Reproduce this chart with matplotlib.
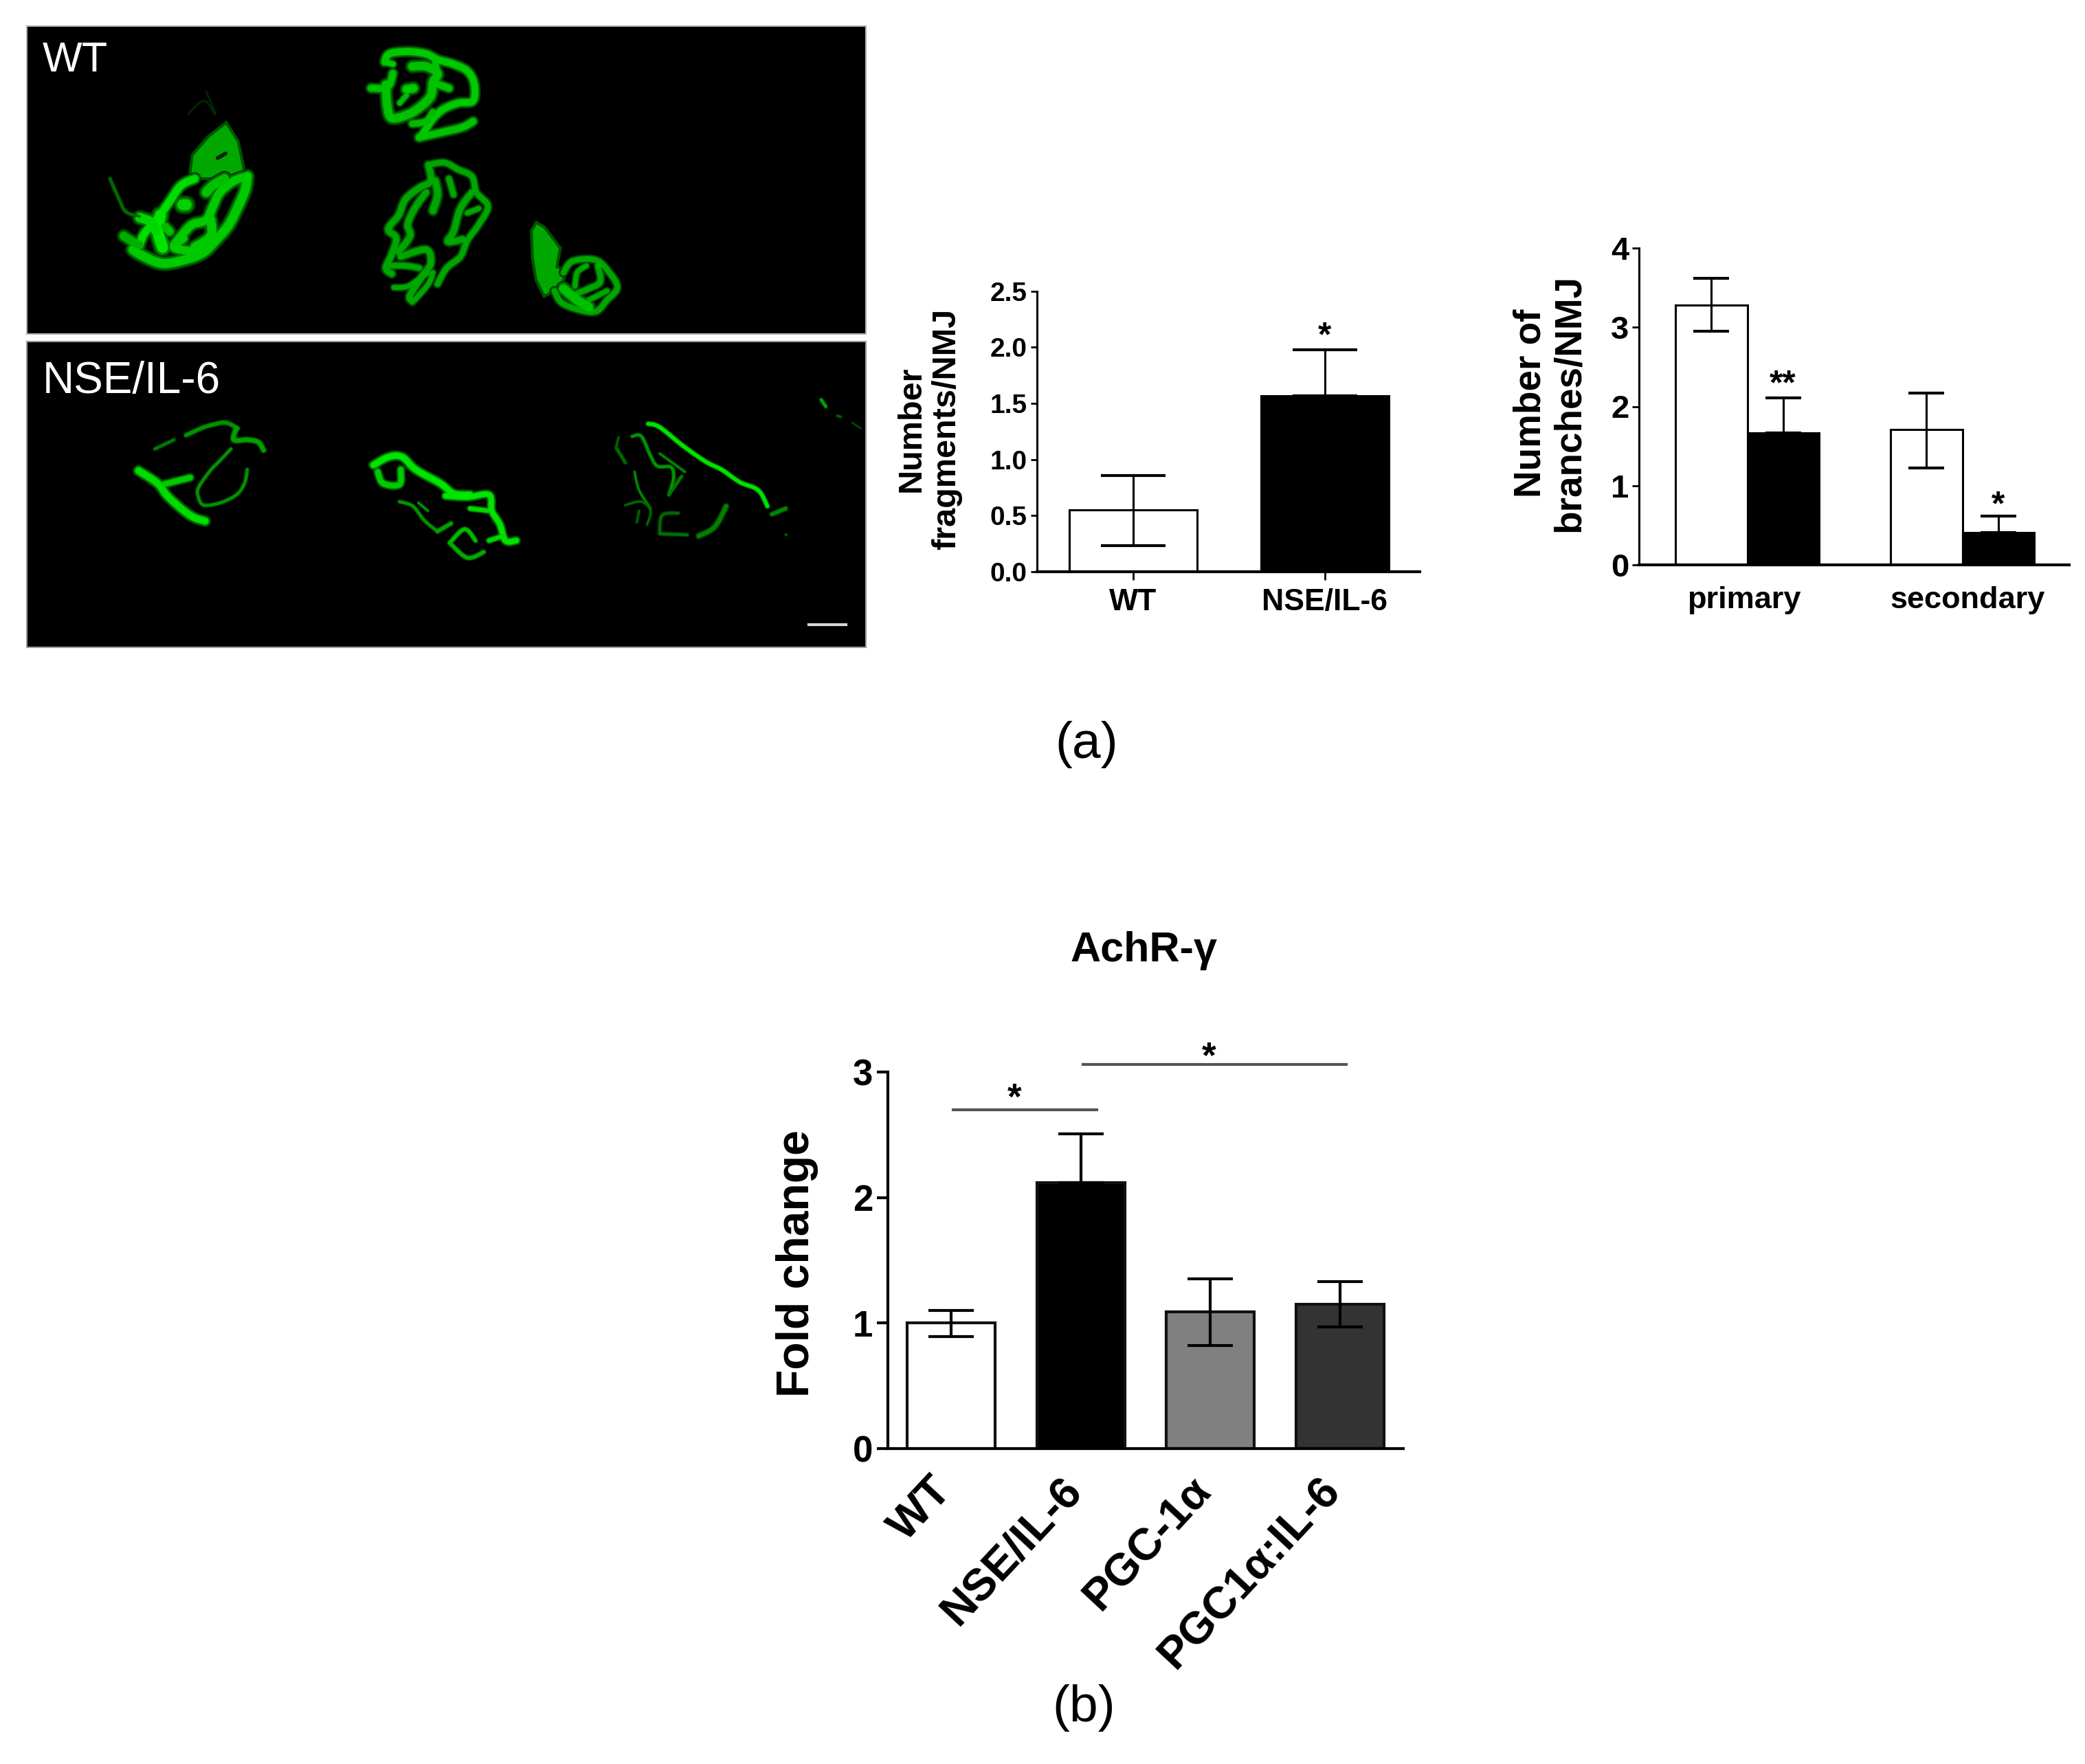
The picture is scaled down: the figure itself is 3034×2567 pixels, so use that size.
import matplotlib
matplotlib.use("Agg")
import matplotlib.pyplot as plt
import numpy as np
from matplotlib.patches import Rectangle
from matplotlib.transforms import ScaledTranslation

plt.rcParams['font.family'] = ['Liberation Sans', 'DejaVu Sans']

W, H = 3034, 2567

# ---------- data ----------
frag_labels = ["WT", "NSE/IL-6"]
frag_values = [0.55, 1.57]
frag_low = [0.23, 1.57]
frag_high = [0.855, 1.98]
frag_ticks = [0.0, 0.5, 1.0, 1.5, 2.0, 2.5]

branch_groups = ["primary", "secondary"]
branch_values = [3.28, 1.67, 1.71, 0.41]
branch_low = [2.95, 1.67, 1.22, 0.41]
branch_high = [3.62, 2.11, 2.17, 0.62]
branch_ticks = [0, 1, 2, 3, 4]

achr_labels = ["WT", "NSE/IL-6", "PGC-1α", "PGC1α:IL-6"]
achr_values = [1.00, 2.12, 1.09, 1.15]
achr_low = [0.89, 2.12, 0.82, 0.97]
achr_high = [1.10, 2.51, 1.35, 1.33]
achr_colors = ["white", "black", "#808080", "#333333"]
achr_ticks = [0, 1, 2, 3]


def px_axes(left, top, right, bottom, **kw):
    return fig.add_axes([left / W, 1 - bottom / H, (right - left) / W, (bottom - top) / H], **kw)


def px_text(x, y, s, **kw):
    kw.setdefault('ha', 'center')
    kw.setdefault('va', 'center')
    fig.text(x / W, 1 - y / H, s, **kw)


def asym(vals, low, high):
    return [[v - l for v, l in zip(vals, low)], [h - v for v, h in zip(vals, high)]]


fig = plt.figure(figsize=(W / 100, H / 100), dpi=100, facecolor='white')

# ---------- micrograph panels: hand-traced strokes; each entry is (width in full px, level, points in crop px) ----------
img = px_axes(0, 0, 1300, 980)
img.set_xlim(0, 1300)
img.set_ylim(980, 0)
img.axis('off')
img.add_patch(Rectangle((39, 37.5), 1221, 448.5, fc='black', ec='#b0b0b0', lw=1.5))
img.add_patch(Rectangle((39, 497), 1221, 445, fc='black', ec='#9a9a9a', lw=1.5))


def smooth(pts):
    p = np.array(pts, float)
    if len(p) < 3:
        return p
    q = np.vstack([p[0], p, p[-1]])
    out = []
    for i in range(1, len(q) - 2):
        t = np.linspace(0, 1, 12, endpoint=False)[:, None]
        a, b, c, d = q[i - 1], q[i], q[i + 1], q[i + 2]
        out.append(0.5 * (2 * b + (c - a) * t + (2 * a - 5 * b + 4 * c - d) * t ** 2 + (3 * b - a - 3 * c + d) * t ** 3))
    out.append(p[-1:])
    return np.vstack(out)


def draw_strokes(strokes, x0, y0, sx, sy):
    paths = [(w, lvl, smooth(pts) / [sx, sy] + [x0, y0]) for w, lvl, pts in strokes]
    for scale, factor in ((1.75, 0.28), (1.4, 0.6), (1.0, 1.05)):
        for w, lvl, p in paths:
            g = min(1.0, lvl * factor)
            img.plot(p[:, 0], p[:, 1], color=(0, g, 0), lw=w * scale * 0.72,
                     solid_capstyle='round', solid_joinstyle='round')


def draw_blob(pts, x0, y0, sx, sy, lvl):
    p = np.array(pts, float) / [sx, sy] + [x0, y0]
    img.fill(p[:, 0], p[:, 1], color=(0, lvl * 0.5, 0), lw=8)
    img.fill(p[:, 0], p[:, 1], color=(0, lvl, 0), lw=2)


# left WT NMJ (crop at 140,60, 3x)
draw_blob([(565, 370), (610, 440), (635, 560), (600, 585), (500, 590), (430, 590), (420, 570), (430, 500), (500, 420)], 140, 60, 3, 3, 0.66)
draw_strokes([
    (11, 0.82, [(430, 600), (370, 630), (320, 700), (270, 770), (210, 840), (190, 890)]),
    (12, 0.75, [(660, 590), (600, 610), (540, 660), (510, 720), (480, 780), (420, 800), (380, 840), (340, 890)]),
    (13, 0.75, [(660, 590), (650, 650), (620, 720), (580, 800), (530, 860), (470, 920), (400, 950), (290, 970), (200, 935), (160, 910)]),
    (13, 0.72, [(480, 660), (510, 630), (560, 600)]),
    (16, 0.85, [(280, 760), (270, 830), (290, 900)]),
    (13, 0.8, [(190, 770), (240, 790), (260, 830)]),
    (13, 0.75, [(500, 780), (500, 850), (430, 900)]),
    (12, 0.75, [(380, 860), (340, 900), (430, 920)]),
    (12, 0.7, [(300, 810), (320, 830)]),
    (12, 0.65, [(120, 850), (160, 875), (190, 890)]),
    (16, 0.78, [(378, 715), (392, 715)]),
    (4, 0.4, [(60, 600), (100, 690), (130, 745), (190, 765)]),
    (2, 0.16, [(400, 320), (470, 260), (520, 320), (480, 220)]),
], 140, 60, 3, 3)
img.plot([140 + 530 / 3, 140 + 565 / 3], [60 + 510 / 3, 60 + 490 / 3], color=(0, 0.12, 0), lw=4, solid_capstyle='round')

# top, centre and right WT NMJs (crop at 520,50, 3x)
draw_blob([(785, 835), (810, 850), (875, 935), (860, 1020), (900, 1040), (880, 1100), (820, 1130), (790, 1070), (775, 980), (770, 860)], 520, 50, 3, 3, 0.66)
draw_strokes([
    (10, 0.75, [(120, 120), (140, 85), (220, 75), (300, 85), (350, 110), (420, 130), (480, 160), (510, 215), (505, 290), (440, 300), (370, 330), (320, 380), (290, 430), (270, 450)]),
    (8, 0.75, [(120, 120), (155, 130)]),
    (10, 0.72, [(155, 170), (140, 220), (110, 235), (60, 235)]),
    (12, 0.72, [(125, 220), (130, 310), (150, 365), (220, 350), (270, 320), (320, 270), (330, 210), (350, 170), (300, 140), (240, 140)]),
    (10, 0.72, [(270, 450), (380, 425), (460, 405), (505, 380)]),
    (9, 0.7, [(240, 390), (300, 380), (330, 340)]),
    (12, 0.75, [(215, 240), (245, 235)]),
    (10, 0.72, [(330, 210), (400, 235)]),
    (9, 0.72, [(350, 170), (340, 120)]),
    (7, 0.7, [(185, 300), (215, 265)]),
    (8, 0.62, [(310, 570), (380, 560), (440, 590), (500, 620), (520, 690), (570, 750), (530, 830), (480, 900), (450, 970), (390, 1020), (350, 1090)]),
    (9, 0.62, [(310, 570), (320, 640), (270, 670), (210, 720), (180, 790), (135, 850), (170, 890), (150, 960), (125, 1020), (150, 1045)]),
    (9, 0.62, [(300, 690), (250, 760), (220, 830), (230, 880), (180, 950)]),
    (10, 0.62, [(340, 640), (350, 700), (330, 770)]),
    (8, 0.62, [(400, 630), (420, 700)]),
    (9, 0.62, [(500, 690), (450, 760), (420, 860), (395, 905), (460, 895)]),
    (7, 0.62, [(480, 780), (530, 760)]),
    (9, 0.62, [(190, 970), (300, 940), (320, 1000), (280, 1060), (230, 1140), (240, 1165)]),
    (8, 0.62, [(130, 1010), (210, 1010), (270, 1020)]),
    (7, 0.62, [(160, 1105), (220, 1100), (280, 1060), (310, 1040)]),
    (7, 0.62, [(250, 1160), (310, 1090), (330, 1040)]),
    (8, 0.62, [(900, 1040), (940, 990), (1040, 985), (1100, 1040), (1135, 1105), (1090, 1160), (1040, 1210), (960, 1200), (890, 1170), (860, 1120)]),
    (7, 0.62, [(950, 1100), (960, 1040), (1000, 1010)]),
    (8, 0.62, [(1050, 1010), (1060, 1080), (1010, 1110), (960, 1130)]),
    (7, 0.62, [(1010, 1160), (1090, 1120)]),
    (13, 0.72, [(900, 1110), (960, 1160), (1010, 1190)]),
], 520, 50, 3, 3)

# left and middle NSE/IL-6 NMJs (crop at 170,590, 2.53x by 3x)
draw_strokes([
    (10, 0.82, [(80, 285), (150, 340), (190, 400), (270, 480), (325, 505)]),
    (8, 0.75, [(170, 345), (270, 315)]),
    (4, 0.45, [(140, 190), (210, 150)]),
    (5, 0.55, [(255, 130), (310, 100), (350, 85), (400, 75), (445, 100)]),
    (6, 0.6, [(440, 100), (430, 150), (480, 150), (520, 160), (540, 195)]),
    (4, 0.55, [(420, 190), (380, 240), (340, 290), (300, 360), (300, 400), (320, 435), (380, 425), (440, 390), (470, 340), (480, 280)]),
    (9, 0.85, [(945, 260), (1000, 225), (1050, 225), (1100, 280), (1190, 340), (1240, 385), (1300, 390)]),
    (8, 0.75, [(960, 290), (980, 340), (1040, 345), (1045, 280)]),
    (8, 0.85, [(1210, 395), (1290, 400), (1370, 390), (1380, 460), (1410, 520), (1430, 590), (1470, 590)]),
    (6, 0.8, [(1300, 450), (1370, 460)]),
    (6, 0.8, [(1370, 590), (1420, 570)]),
    (4, 0.55, [(1040, 420), (1090, 440), (1130, 500), (1180, 550)]),
    (3, 0.55, [(1110, 425), (1145, 460)]),
    (5, 0.6, [(1180, 550), (1230, 515)]),
    (5, 0.7, [(1225, 600), (1280, 540), (1320, 590)]),
    (5, 0.65, [(1225, 600), (1290, 665), (1350, 640)]),
], 170, 590, 1568 / 620, 3)

# right NSE/IL-6 NMJ (crop at 860,580, 3x)
draw_strokes([
    (5, 0.85, [(250, 110), (300, 125), (400, 205), (500, 275), (570, 310), (650, 365), (730, 400), (770, 470)]),
    (4, 0.55, [(180, 165), (220, 165), (260, 250), (290, 295), (350, 300), (360, 350), (340, 420)]),
    (3, 0.5, [(300, 240), (410, 320)]),
    (4, 0.45, [(395, 340), (340, 420)]),
    (4, 0.4, [(110, 215), (150, 280)]),
    (3, 0.35, [(120, 170), (110, 210)]),
    (3, 0.5, [(190, 320), (210, 400), (260, 480)]),
    (3, 0.38, [(150, 465), (220, 450), (260, 490), (245, 550)]),
    (3, 0.35, [(200, 540), (210, 490)]),
    (4, 0.38, [(300, 590), (310, 510), (380, 500)]),
    (4, 0.42, [(300, 590), (420, 595)]),
    (6, 0.48, [(470, 600), (540, 560), (590, 470)]),
    (5, 0.5, [(790, 505), (850, 480)]),
    (3, 0.35, [(848, 595), (852, 595)]),
    (4, 0.6, [(1005, 5), (1025, 35)]),
    (3, 0.35, [(1075, 75), (1090, 80)]),
    (2, 0.3, [(1140, 105), (1178, 130)]),
], 860, 580, 3, 3)

img.plot([1177, 1231], [909, 909], color='#d8d8d8', lw=3)
px_text(62, 88, "WT", color='white', fontsize=44, ha='left')
px_text(62, 555, "NSE/IL-6", color='white', fontsize=46, ha='left')

# ---------- fragments chart ----------
ax1 = px_axes(1509, 423.6, 2066, 832)
ax1.bar(range(2), frag_values, width=0.665, color=['white', 'black'], edgecolor='black', linewidth=2.2, zorder=2)
ax1.errorbar(range(2), frag_values, yerr=asym(frag_values, frag_low, frag_high), fmt='none', ecolor='black',
             elinewidth=2.2, capsize=34, capthick=3, zorder=3)
ax1.set_xlim(-0.502, 1.495)
ax1.set_ylim(0, 2.5)
ax1.set_yticks(frag_ticks, [f"{t:.1f}" for t in frag_ticks], fontsize=28, fontweight='bold')
ax1.set_xticks(range(2), frag_labels, fontsize=32, fontweight='bold')
ax1.tick_params(axis='y', length=6.5, width=2, pad=3.6)
ax1.tick_params(axis='x', length=8.6, width=2, pad=8.6)
ax1.text(1, 2.09, "*", ha='center', va='center', fontsize=36, fontweight='bold')
px_text(1352, 624, "Number\nfragments/NMJ", rotation=90, fontsize=35, fontweight='bold', linespacing=1.2, multialignment='center')

# ---------- branches chart ----------
ax2 = px_axes(2385, 361, 3011, 822)
pos2 = [0, 1, 3, 4]
ax2.bar(pos2, branch_values, width=1.0, color=['white', 'black', 'white', 'black'], edgecolor='black', linewidth=2.2, zorder=2)
ax2.errorbar(pos2, branch_values, yerr=asym(branch_values, branch_low, branch_high), fmt='none', ecolor='black',
             elinewidth=2.2, capsize=19, capthick=3, zorder=3)
ax2.set_xlim(-1.01, 4.99)
ax2.set_ylim(0, 4)
ax2.set_yticks(branch_ticks, [str(t) for t in branch_ticks], fontsize=34, fontweight='bold')
ax2.set_xticks([0.45, 3.57], branch_groups, fontsize=32.5, fontweight='bold')
ax2.tick_params(axis='y', length=7.5, width=2, pad=3)
ax2.tick_params(axis='x', length=0, pad=22)
ax2.text(1, 2.27, "**", ha='center', va='center', fontsize=36, fontweight='bold')
ax2.text(4, 0.74, "*", ha='center', va='center', fontsize=36, fontweight='bold')
px_text(2256, 587, "Number of\nbranches/NMJ", rotation=90, fontsize=39.5, fontweight='bold', linespacing=1.1, multialignment='center')

# ---------- AchR chart ----------
ax3 = px_axes(1292, 1560, 2042, 2108)
ax3.bar(range(4), achr_values, width=0.68, color=achr_colors, edgecolor='#111111', linewidth=3, zorder=2)
ax3.errorbar(range(4), achr_values, yerr=asym(achr_values, achr_low, achr_high), fmt='none', ecolor='black',
             elinewidth=3, capsize=24, capthick=3, zorder=3)
ax3.set_xlim(-0.489, 3.49)
ax3.set_ylim(0, 3)
ax3.set_yticks(achr_ticks, [str(t) for t in achr_ticks], fontsize=38, fontweight='bold')
ax3.set_xticks(range(4), achr_labels, fontsize=47, fontweight='bold', rotation=47, ha='right', rotation_mode='anchor')
ax3.tick_params(axis='y', length=11.5, width=3, pad=4)
ax3.tick_params(axis='x', length=0, pad=22)
for lab in ax3.get_xticklabels():
    lab.set_transform(lab.get_transform() + ScaledTranslation(-0.31, 0, fig.dpi_scale_trans))
ax3.plot([0.016, 1.126], [2.70, 2.70], color='#555555', lw=3, clip_on=False)
ax3.plot([1.02, 3.05], [3.06, 3.06], color='#555555', lw=3, clip_on=False)
ax3.text(0.49, 2.78, "*", ha='center', va='center', fontsize=38, fontweight='bold', clip_on=False)
ax3.text(1.99, 3.11, "*", ha='center', va='center', fontsize=38, fontweight='bold', clip_on=False)
px_text(1160, 1839, "Fold change", rotation=90, fontsize=47.5, fontweight='bold')
px_text(1664, 1384, "AchR-γ", fontsize=44, fontweight='bold')

for ax, lw in ((ax1, 2.2), (ax2, 2.2), (ax3, 3)):
    ax.spines['top'].set_visible(False)
    ax.spines['right'].set_visible(False)
    ax.spines['left'].set_linewidth(lw)
    ax.spines['bottom'].set_linewidth(3)
    ax.set_facecolor('none')
    ax.spines['bottom'].set_zorder(5)

px_text(1581, 1084, "(a)", fontsize=54)
px_text(1577, 2485, "(b)", fontsize=54)

fig.savefig("out.png", dpi=100)
